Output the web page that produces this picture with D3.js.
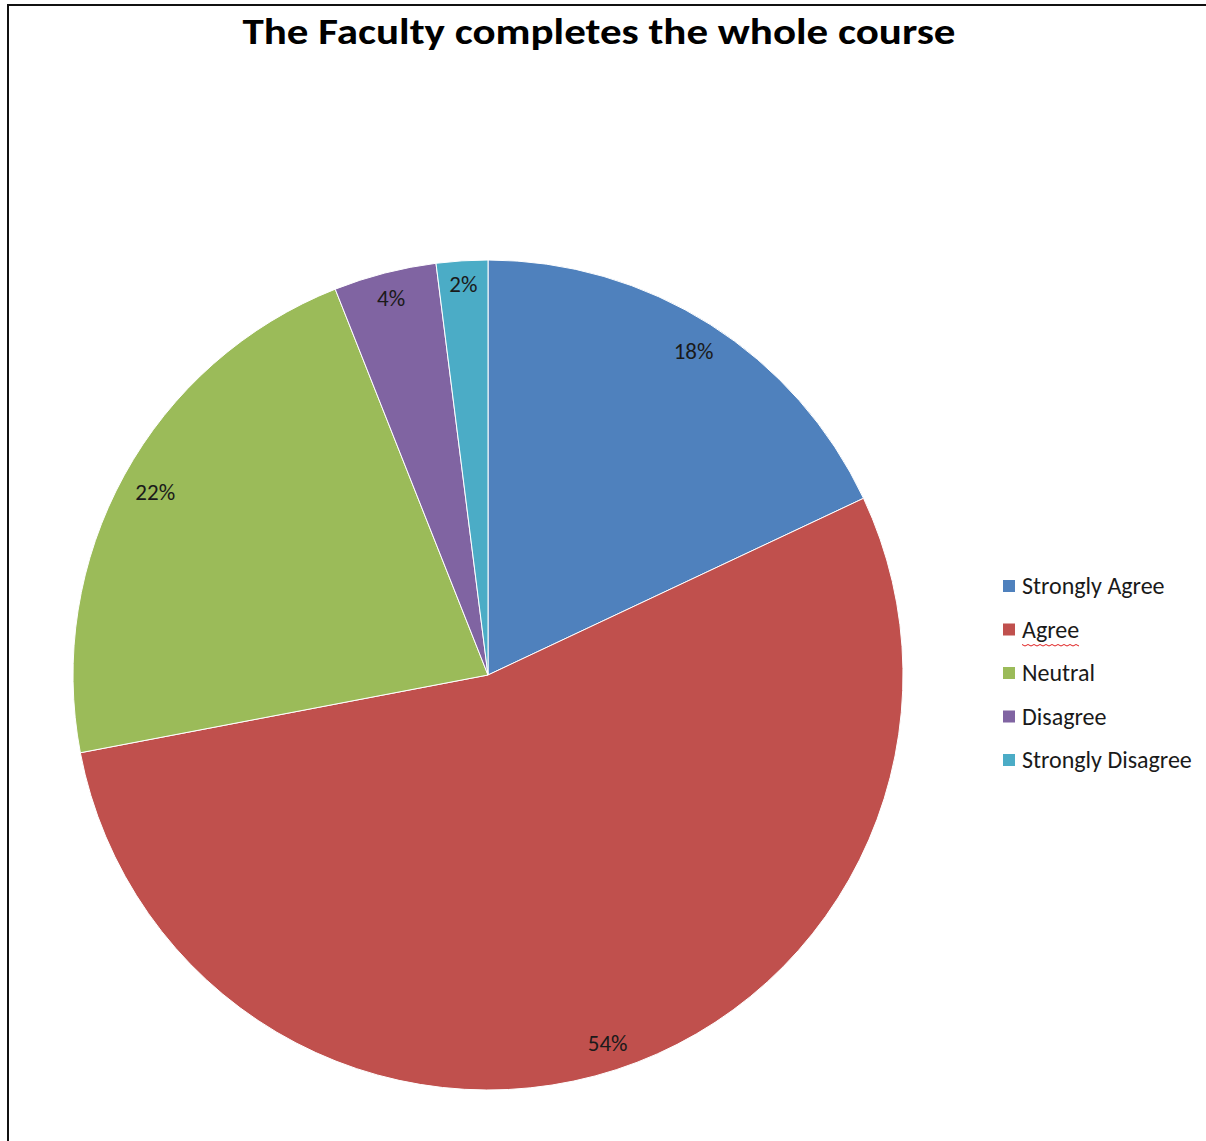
<!DOCTYPE html>
<html>
<head>
<meta charset="utf-8">
<script src="https://cdn.jsdelivr.net/npm/d3@7"></script>
<style>
  html, body { margin: 0; padding: 0; background: #fff; }
  svg { display: block; }
</style>
</head>
<body>
<svg id="chart" width="1206" height="1141"></svg>
<script>
// Survey responses (percent of respondents)
const categories = ["Strongly Agree", "Agree", "Neutral", "Disagree", "Strongly Disagree"];
const values = [18, 54, 22, 4, 2];
const colors = ["#4F81BD", "#C0504D", "#9BBB59", "#8064A2", "#4BACC6"];
const title = "The Faculty completes the whole course";

const svg = d3.select("#chart");
const W = 1206, H = 1141;
const font = "Carlito, Calibri, 'Open Sans', sans-serif";

// chart frame (extends past the right and bottom edges)
svg.append("rect")
  .attr("x", 8).attr("y", 5)
  .attr("width", W + 20).attr("height", H + 20)
  .attr("fill", "#fff")
  .attr("stroke", "#111").attr("stroke-width", 2);

svg.append("text")
  .attr("x", 599).attr("y", 44)
  .attr("text-anchor", "middle")
  .attr("font-family", font)
  .attr("font-weight", "bold")
  .attr("font-size", 37)
  .attr("fill", "#000")
  .attr("textLength", 713)
  .attr("lengthAdjust", "spacingAndGlyphs")
  .text(title);

const cx = 488, cy = 675, R = 415;
const g = svg.append("g").attr("transform", `translate(${cx},${cy})`);

const pie = d3.pie().sort(null).value(d => d)(values);
const arc = d3.arc().innerRadius(0).outerRadius(R);

g.selectAll("path.slice")
  .data(pie)
  .join("path")
  .attr("class", "slice")
  .attr("d", arc)
  .attr("fill", (d, i) => colors[i])
  .attr("stroke", "#fff")
  .attr("stroke-width", 1);

// percentage labels placed just inside the outer edge of each slice
const total = d3.sum(values);
const pad = 14, textH = 16;
g.selectAll("text.pct")
  .data(pie)
  .join("text")
  .attr("class", "pct")
  .attr("text-anchor", "middle")
  .attr("dy", "0.35em")
  .attr("font-family", font)
  .attr("font-size", 23)
  .attr("fill", "#1a1a1a")
  .text(d => Math.round(d.data / total * 100) + "%")
  .each(function (d) {
    const w = this.getComputedTextLength();
    const a = (d.startAngle + d.endAngle) / 2;
    const ux = Math.sin(a), uy = -Math.cos(a);
    const extent = Math.abs(ux) * w / 2 + Math.abs(uy) * textH / 2;
    const r = R - pad - extent;
    d3.select(this).attr("transform", `translate(${ux * r},${uy * r})`);
  });

// legend
const legend = svg.append("g").attr("transform", "translate(1003,586)");
const rowH = 43.5;
const rows = legend.selectAll("g.item")
  .data(categories)
  .join("g")
  .attr("class", "item")
  .attr("transform", (d, i) => `translate(0,${i * rowH})`);

rows.append("rect")
  .attr("x", 0).attr("y", -6)
  .attr("width", 12).attr("height", 12)
  .attr("fill", (d, i) => colors[i]);

rows.append("text")
  .attr("x", 19).attr("y", 0)
  .attr("dy", "0.35em")
  .attr("font-family", font)
  .attr("font-size", 24)
  .attr("fill", "#1a1a1a")
  .text(d => d);

// spell-check squiggle under "Agree"
const agreeRow = rows.filter(d => d === "Agree");
const agreeW = agreeRow.select("text").node().getComputedTextLength();
const sq = d3.range(0, agreeW, 3).map((x, k) => [19 + x, 15 + (k % 2 ? 1.5 : 0)]);
agreeRow.append("path")
  .attr("d", d3.line()(sq))
  .attr("fill", "none")
  .attr("stroke", "#e02020")
  .attr("stroke-width", 1);
</script>
</body>
</html>
